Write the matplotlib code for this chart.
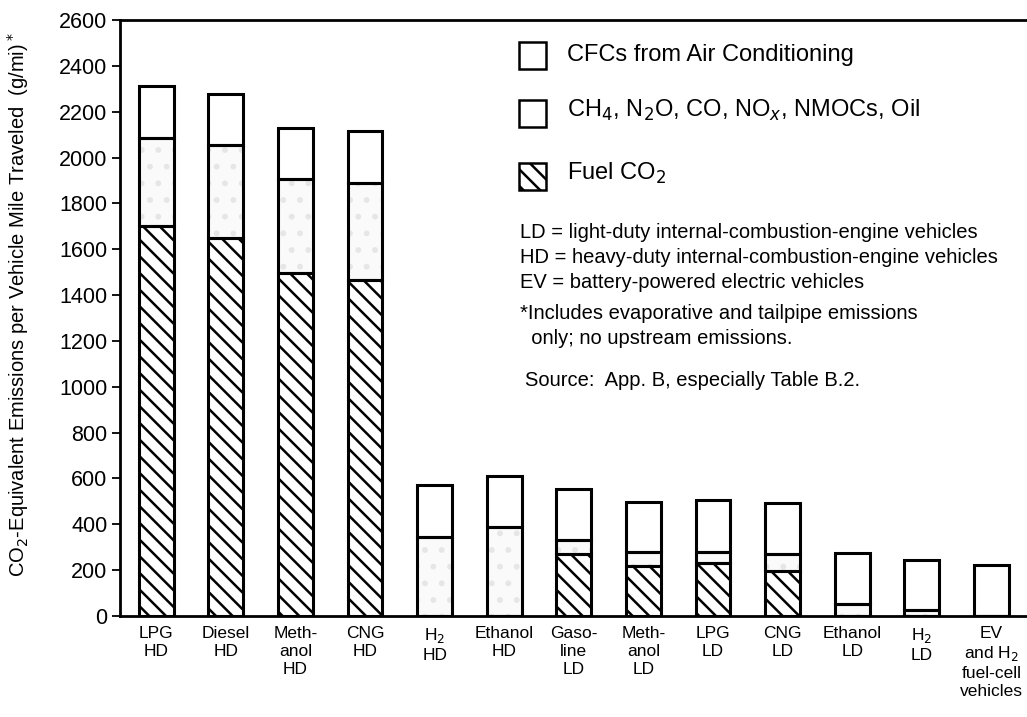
import matplotlib
matplotlib.use('Agg')
from matplotlib import pyplot as plt
from matplotlib.patches import Rectangle

plt.rcParams['font.family'] = ['Liberation Sans', 'DejaVu Sans']
plt.rcParams['hatch.linewidth'] = 1.8

categories = ['LPG\nHD', 'Diesel\nHD', 'Meth-\nanol\nHD', 'CNG\nHD', 'H$_2$\nHD', 'Ethanol\nHD',
              'Gaso-\nline\nLD', 'Meth-\nanol\nLD', 'LPG\nLD', 'CNG\nLD', 'Ethanol\nLD', 'H$_2$\nLD',
              'EV\nand H$_2$\nfuel-cell\nvehicles']
# cumulative tops (g/mi)
fuel_co2 = [1700, 1650, 1495, 1465, 0, 0, 269, 218, 230, 198, 0, 0, 0]
other_top = [2085, 2055, 1905, 1890, 345, 390, 331, 281, 281, 269, 52, 26, 0]
total = [2310, 2275, 2130, 2115, 570, 610, 552, 499, 505, 491, 273, 244, 222]
yticks = list(range(0, 2601, 200))

other = [o - f for o, f in zip(other_top, fuel_co2)]
cfc = [t - o for t, o in zip(total, other_top)]

W, H = 1027, 717
fig = plt.figure(figsize=(W / 100, H / 100), dpi=100)
ax = fig.add_axes([120 / W, 1 - 616 / H, 1 - 120 / W, (616 - 20) / H])

x = list(range(len(categories)))
bw = 0.5
# faint stipple for the "other gases" segment
ax.bar(x, other, bw, bottom=fuel_co2, color='#fafafa', edgecolor='#e6e6e6', hatch='.', linewidth=0)
ax.bar(x, fuel_co2, bw, color='white', edgecolor='black', hatch='\\\\', linewidth=2.2)
ax.bar(x, other, bw, bottom=fuel_co2, fill=False, edgecolor='black', linewidth=2.2)
ax.bar(x, cfc, bw, bottom=other_top, fill=False, edgecolor='black', linewidth=2.2)

ax.set_xlim(-0.52, 12.51)
ax.set_ylim(0, 2600)
ax.set_yticks(yticks)
ax.set_yticklabels([str(v) for v in yticks], fontsize=15.5)
ax.tick_params(axis='y', direction='out', length=6, width=1.3, pad=3)
ax.set_xticks(x)
ax.set_xticklabels(categories, fontsize=12.5, linespacing=1.25, va='top')
ax.tick_params(axis='x', length=0, pad=7)
ax.spines['right'].set_visible(False)
for s in ['left', 'bottom', 'top']:
    ax.spines[s].set_linewidth(2)

fig.text(18 / W, 1 - 305 / H, 'CO$_2$-Equivalent Emissions per Vehicle Mile Traveled  (g/mi)$^*$',
         rotation=90, ha='center', va='center', fontsize=14.5)

# legend drawn by hand
def fx(px):
    return px / W

def fy(py):
    return 1 - py / H

legend_rows = [('CFCs from Air Conditioning', None, 56, 55),
               ('CH$_4$, N$_2$O, CO, NO$_x$, NMOCs, Oil', None, 114, 110),
               ('Fuel CO$_2$', '\\\\', 177, 173)]
for label, hatch, yb, yt in legend_rows:
    fig.add_artist(Rectangle((fx(519), fy(yb + 13)), 27 / W, 27 / H, transform=fig.transFigure,
                             facecolor='white', edgecolor='black', linewidth=1.8, hatch=hatch))
    fig.text(fx(567), fy(yt), label, fontsize=17, ha='left', va='center')

notes = [('LD = light-duty internal-combustion-engine vehicles', 520, 233),
         ('HD = heavy-duty internal-combustion-engine vehicles', 520, 258),
         ('EV = battery-powered electric vehicles', 520, 283),
         ('*Includes evaporative and tailpipe emissions', 520, 314),
         ('  only; no upstream emissions.', 520, 338),
         ('Source:  App. B, especially Table B.2.', 525, 381)]
for txt, px, py in notes:
    fig.text(fx(px), fy(py), txt, fontsize=14.5, ha='left', va='center')

plt.savefig('out.png', dpi=100)
plt.close()
